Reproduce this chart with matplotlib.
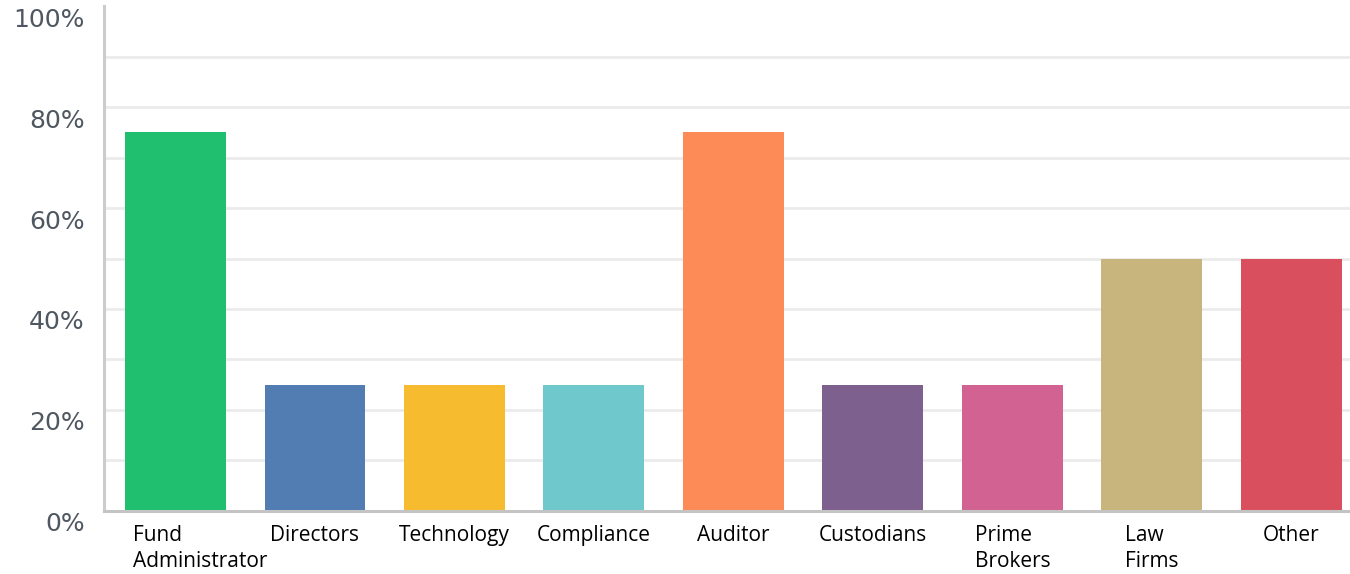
import matplotlib.pyplot as plt
import matplotlib.transforms as mtransforms
import numpy as np

categories = ["Fund\nAdministrator", "Directors", "Technology", "Compliance", "Auditor",
              "Custodians", "Prime\nBrokers", "Law\nFirms", "Other"]
values = [75, 25, 25, 25, 75, 25, 25, 50, 50]
colors = ["#20bf6f", "#517db3", "#f7bb2f", "#6fc8cc", "#fd8b58",
          "#7e608e", "#d26291", "#c8b57d", "#d94f5e"]
y_ticks = [0, 20, 40, 60, 80, 100]
y_labels = ["0%", "20%", "40%", "60%", "80%", "100%"]
grid_levels = [10, 20, 30, 40, 50, 60, 70, 80, 90]

fig = plt.figure(figsize=(13.5, 5.74), dpi=100)
ax = fig.add_axes([0.077, 0.1098, 0.923, 0.8797])

x = np.arange(len(categories))
for g in grid_levels:
    ax.axhline(g, color="#ebebeb", lw=2, zorder=0)
ax.bar(x, values, width=0.724, color=colors, zorder=2)

ax.set_xlim(-0.513, 8.42)
ax.set_ylim(0, 100)

ax.set_yticks(y_ticks)
ax.set_yticklabels(y_labels, fontsize=18, color="#4f5761", family="DejaVu Sans")
ax.tick_params(axis="y", length=0, pad=14)
offset = mtransforms.ScaledTranslation(0, -11 / 100, fig.dpi_scale_trans)
for lbl in ax.get_yticklabels():
    lbl.set_transform(lbl.get_transform() + offset)

ax.set_xticks(x)
ax.set_xticklabels(categories, fontsize=15, color="black", family="Open Sans",
                   multialignment="left", linespacing=1.35)
ax.tick_params(axis="x", length=0, pad=10)
# first label sits a bit right of its bar in the original
first = ax.get_xticklabels()[0]
first.set_transform(first.get_transform()
                    + mtransforms.ScaledTranslation(25 / 100, 0, fig.dpi_scale_trans))

for side in ["top", "right"]:
    ax.spines[side].set_visible(False)
ax.spines["left"].set_color("#cccccc")
ax.spines["left"].set_linewidth(2.2)
ax.spines["bottom"].set_color("#c4c4c4")
ax.spines["bottom"].set_linewidth(2.2)

fig.savefig("out.png", dpi=100)
